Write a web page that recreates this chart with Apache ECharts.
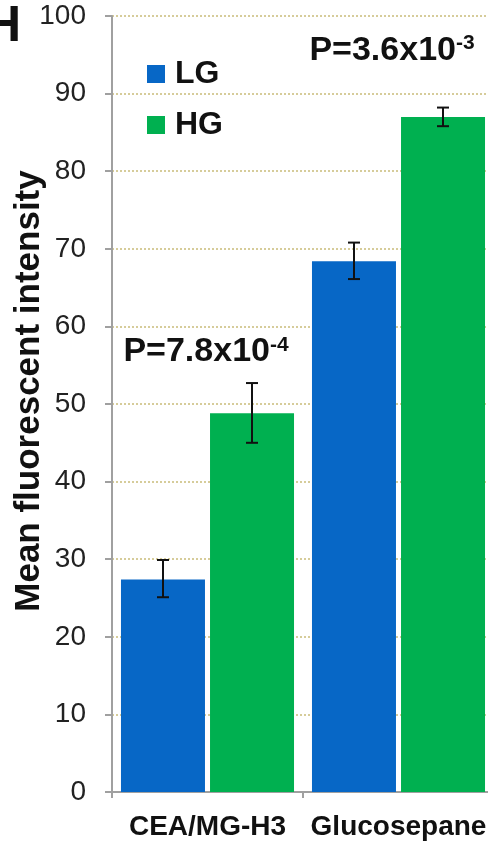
<!DOCTYPE html>
<html><head><meta charset="utf-8">
<script src="https://cdn.jsdelivr.net/npm/echarts@6/dist/echarts.min.js"></script>
<style>html,body{margin:0;padding:0;background:#fff;overflow:hidden}#c{width:494px;height:844px}</style>
</head><body><div id="c"></div>
<script>
const categories = ['CEA/MG-H3', 'Glucosepane'];
const seriesNames = ['LG', 'HG'];
const lgValues = [27.4, 68.4];
const hgValues = [48.8, 87.0];
const lgErrLow = [25.1, 66.1];
const lgErrHigh = [29.9, 70.8];
const hgErrLow = [45.0, 85.8];
const hgErrHigh = [52.7, 88.2];
const yTicks = [0, 10, 20, 30, 40, 50, 60, 70, 80, 90, 100];
const pLabels = [{base: 'P=7.8x10', exp: '-4'}, {base: 'P=3.6x10', exp: '-3'}];

const colors = ['#0767C6', '#00B050'];
const BAR_W = 84, GAP = 5;
const FONT = 'Liberation Sans, Arial, sans-serif';

function errSeries(low, high, offset) {
  return {
    type: 'custom',
    z: 5,
    data: categories.map((c, i) => [i, low[i], high[i]]),
    renderItem: function (params, api) {
      const lo = api.coord([api.value(0), api.value(1)]);
      const hi = api.coord([api.value(0), api.value(2)]);
      const x = lo[0] + offset;
      const hw = 6;
      const st = {stroke: '#111', lineWidth: 2};
      return {type: 'group', children: [
        {type: 'line', shape: {x1: x, y1: hi[1], x2: x, y2: lo[1]}, style: st},
        {type: 'line', shape: {x1: x - hw, y1: hi[1], x2: x + hw, y2: hi[1]}, style: st},
        {type: 'line', shape: {x1: x - hw, y1: lo[1], x2: x + hw, y2: lo[1]}, style: st}
      ]};
    }
  };
}

const chart = echarts.init(document.getElementById('c'));
const off = (BAR_W + GAP) / 2;
chart.setOption({
  animation: false,
  textStyle: {fontFamily: FONT},
  grid: {left: 112, right: 0, top: 16, bottom: 52, containLabel: false, outerBoundsMode: 'none'},
  xAxis: {
    type: 'category', data: categories,
    axisLine: {lineStyle: {color: '#A0A0A0', width: 2}},
    axisTick: {show: true, length: 6, lineStyle: {color: '#A0A0A0', width: 2}},
    axisLabel: {color: '#111', fontSize: 28, fontWeight: 'bold', margin: 21, interval: 0, fontFamily: FONT}
  },
  yAxis: {
    type: 'value', min: yTicks[0], max: yTicks[yTicks.length - 1], interval: 10,
    name: 'Mean fluorescent intensity', nameLocation: 'middle', nameGap: 65, nameMoveOverlap: false,
    nameTextStyle: {color: '#111', fontSize: 35, fontWeight: 'bold', fontFamily: FONT, padding: [0, 0, 0, 26]},
    axisLine: {show: true, lineStyle: {color: '#A0A0A0', width: 2}},
    axisTick: {show: true, length: 7, lineStyle: {color: '#A0A0A0', width: 2}},
    axisLabel: {color: '#222', fontSize: 28, margin: 26, fontFamily: FONT},
    splitLine: {show: true, lineStyle: {color: '#C9BC7A', type: [2, 2], width: 1.5}}
  },
  legend: {
    left: 147, top: 58, padding: 0, orient: 'vertical', itemGap: 19, icon: 'rect',
    itemWidth: 18, itemHeight: 18,
    textStyle: {color: '#111', fontSize: 32, fontWeight: 'bold', fontFamily: FONT, padding: [0, 0, 0, 5]},
    data: seriesNames
  },
  graphic: [
    {type: 'text', left: -15, top: 2, style: {text: 'H', font: 'bold 50px Liberation Sans, Arial', fill: '#111'}}
  ],
  series: [
    {name: seriesNames[0], type: 'bar', data: lgValues, barWidth: BAR_W, barGap: (GAP / BAR_W * 100).toFixed(1) + '%',
      itemStyle: {color: colors[0]}},
    {name: seriesNames[1], type: 'bar', data: hgValues, barWidth: BAR_W,
      itemStyle: {color: colors[1]},
      markPoint: {
        symbol: 'rect', symbolSize: 0,
        data: pLabels.map((p, i) => ({
          coord: [i, i === 0 ? 56.8 : 95.6],
          label: {
            show: true, position: 'inside', offset: [i === 0 ? -46 : -51, 0],
            formatter: '{b|' + p.base + '}{s|' + p.exp + '}',
            rich: {
              b: {fontSize: 34, fontWeight: 'bold', color: '#111', fontFamily: FONT},
              s: {fontSize: 21, fontWeight: 'bold', color: '#111', verticalAlign: 'top', padding: [0, 0, 13, 0], fontFamily: FONT}
            }
          }
        }))
      }},
    errSeries(lgErrLow, lgErrHigh, -off),
    errSeries(hgErrLow, hgErrHigh, off)
  ]
});
</script></body></html>
